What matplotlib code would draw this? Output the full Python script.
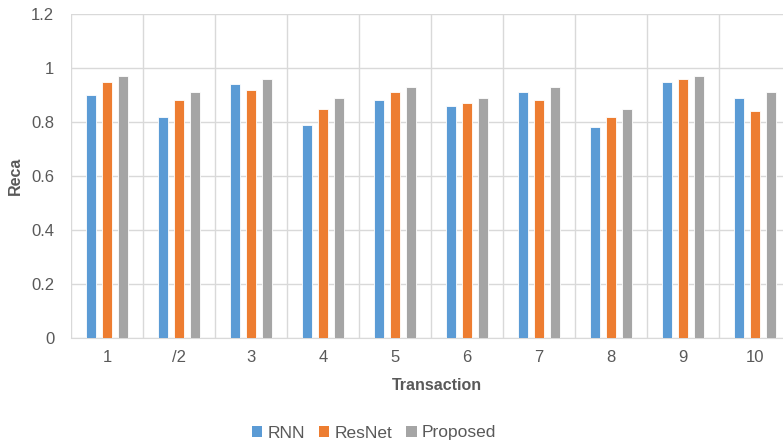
import numpy as np
import matplotlib
matplotlib.use("Agg")
import matplotlib.pyplot as plt
from matplotlib.patches import Patch

plt.rcParams["font.family"] = ["Liberation Sans", "DejaVu Sans"]

categories = ["1", "/2", "3", "4", "5", "6", "7", "8", "9", "10"]
rnn = [0.90, 0.82, 0.94, 0.79, 0.88, 0.86, 0.91, 0.78, 0.95, 0.89]
resnet = [0.95, 0.88, 0.92, 0.85, 0.91, 0.87, 0.88, 0.82, 0.96, 0.84]
proposed = [0.97, 0.91, 0.96, 0.89, 0.93, 0.89, 0.93, 0.85, 0.97, 0.91]

series = [("RNN", rnn, "#5B9BD5"),
          ("ResNet", resnet, "#ED7D31"),
          ("Proposed", proposed, "#A5A5A5")]

W, H = 783, 446
fig = plt.figure(figsize=(W / 100, H / 100), dpi=100)
# the original chart is clipped on the right, so the axes run past the figure edge
ax = fig.add_axes([71 / W, 108 / H, 720 / W, 324 / H])

x = np.arange(len(categories))
step, bw = 0.222, 0.14
for i, (name, vals, col) in enumerate(series):
    ax.bar(x + (i - 1) * step, vals, bw, color=col, edgecolor="white",
           linewidth=0.6, zorder=3)

ax.set_xlim(-0.5, len(categories) - 0.5)
ax.set_ylim(0, 1.2)
ax.set_yticks(np.arange(0, 1.21, 0.2))
ax.set_yticklabels(["0", "0.2", "0.4", "0.6", "0.8", "1", "1.2"])
ax.set_xticks(x)
ax.set_xticklabels(categories)
ax.set_xticks(np.arange(-0.5, len(categories), 1), minor=True)

ax.grid(axis="y", which="major", color="#d9d9d9", linewidth=1, zorder=0)
ax.grid(axis="x", which="minor", color="#d9d9d9", linewidth=1, zorder=0)
ax.tick_params(axis="both", which="both", length=0, labelsize=12,
               labelcolor="#595959")
ax.tick_params(axis="x", pad=9)
ax.tick_params(axis="y", pad=12)
for s in ("top", "right", "left"):
    ax.spines[s].set_visible(False)
ax.spines["bottom"].set_color("#d9d9d9")

ax.set_ylabel("Reca", fontsize=11.5, fontweight="bold", color="#595959", labelpad=6)
fig.text(437 / W, 1 - 386 / H, "Transaction", fontsize=11.5, fontweight="bold",
         color="#595959", ha="center", va="center")

handles = [Patch(facecolor=c, label=n) for n, _, c in series]
fig.legend(handles=handles, loc="center", bbox_to_anchor=(374 / W, 1 - 433 / H),
           ncol=3, frameon=False, fontsize=12.5, handlelength=0.6, handleheight=0.6,
           handletextpad=0.3, columnspacing=0.8, labelcolor="#595959")

fig.savefig("out.png", dpi=100)
